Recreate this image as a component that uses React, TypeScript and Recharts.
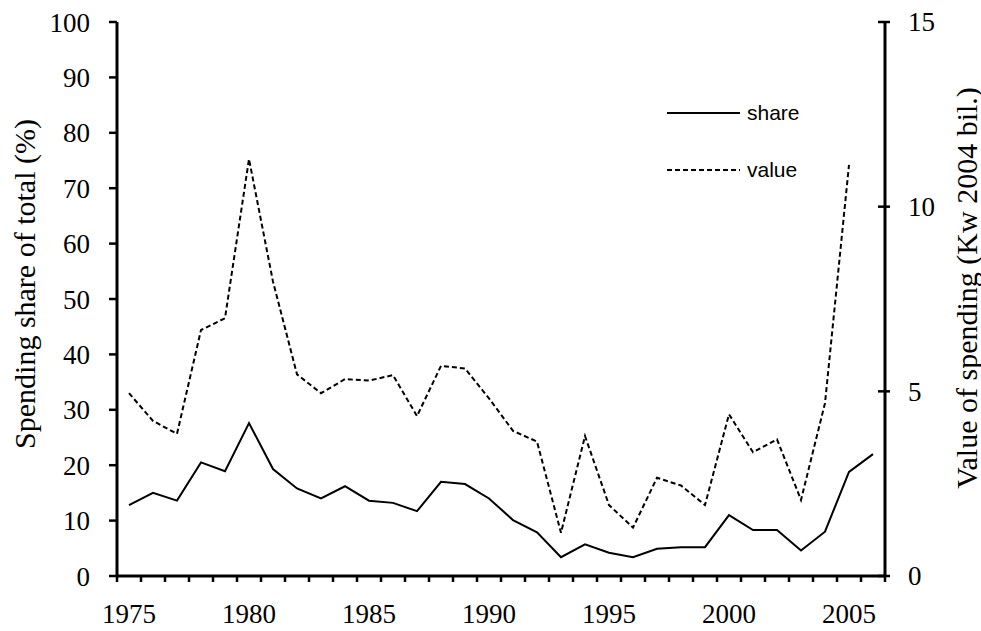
import {
  LineChart, Line, XAxis, YAxis, Legend,
} from 'recharts'

const YEARS = [
  1975, 1976, 1977, 1978, 1979, 1980, 1981, 1982, 1983, 1984, 1985,
  1986, 1987, 1988, 1989, 1990, 1991, 1992, 1993, 1994, 1995, 1996,
  1997, 1998, 1999, 2000, 2001, 2002, 2003, 2004, 2005, 2006,
]

// spending share of total (%), left axis
const SHARE = [
  12.8, 15.0, 13.6, 20.5, 18.9, 27.6, 19.3, 15.8, 14.0, 16.2, 13.6,
  13.2, 11.7, 17.0, 16.6, 14.0, 10.1, 7.9, 3.4, 5.7, 4.2, 3.4,
  4.9, 5.2, 5.2, 11.0, 8.3, 8.3, 4.6, 8.0, 18.8, 22.0,
]

// value of spending (Kw 2004 bil.), right axis
const VALUE: (number | null)[] = [
  4.95, 4.2, 3.85, 6.66, 6.98, 11.29, 7.97, 5.46, 4.95, 5.33, 5.29,
  5.44, 4.33, 5.69, 5.62, 4.81, 3.93, 3.64, 1.17, 3.79, 1.92, 1.31,
  2.66, 2.45, 1.92, 4.38, 3.35, 3.70, 2.06, 4.68, 11.13, null,
]

const LEFT_TICKS = [0, 10, 20, 30, 40, 50, 60, 70, 80, 90, 100]
const RIGHT_TICKS = [0, 5, 10, 15]
// tick marks sit between the years, like a category axis
const X_TICKS = [...YEARS.map((y) => y - 0.5), YEARS[YEARS.length - 1] + 0.5]

const data = YEARS.map((year, i) => ({ year, share: SHARE[i], value: VALUE[i] }))

const SERIF = '"Liberation Serif", "Times New Roman", serif'
const SANS = '"Liberation Sans", Arial, sans-serif'
const FS = 27
const LABEL_FS = 30
const BAND = 24

function XTick(props: any) {
  const { x, y, payload } = props
  const year = Math.round(payload.value + 0.5)
  if (year % 5 !== 0 || year > 2006) return <g />
  return (
    <text x={x + BAND / 2} y={y} dy="0.71em" textAnchor="middle"
      fontFamily={SERIF} fontSize={FS} fill="#000">
      {year}
    </text>
  )
}

function RightTick(props: any) {
  const { x, y, payload } = props
  const ax = x - 23
  return (
    <g>
      <line x1={ax - 7} x2={ax + 5} y1={y} y2={y} stroke="#000" strokeWidth={2.5} />
      <text x={x} y={y} dy="0.35em" textAnchor="start"
        fontFamily={SERIF} fontSize={FS} fill="#000">
        {payload.value}
      </text>
    </g>
  )
}

function LeftLabel() {
  return (
    <text x={24} y={284} transform="rotate(-90 24 284)" textAnchor="middle"
      dominantBaseline="central" fontFamily={SERIF} fontSize={LABEL_FS} fill="#000">
      Spending share of total (%)
    </text>
  )
}

function RightLabel() {
  return (
    <text x={966} y={288} transform="rotate(-90 966 288)" textAnchor="middle"
      dominantBaseline="central" fontFamily={SERIF} fontSize={LABEL_FS} fill="#000">
      Value of spending (Kw 2004 bil.)
    </text>
  )
}

function LegendBox() {
  const rows = [
    { name: 'share', dash: undefined },
    { name: 'value', dash: '5 3' },
  ]
  return (
    <div>
      {rows.map((r) => (
        <div key={r.name} style={{ display: 'flex', alignItems: 'center', height: 57 }}>
          <svg width={73} height={4} style={{ marginRight: 7 }}>
            <line x1={0} x2={73} y1={2} y2={2} stroke="#000" strokeWidth={2} strokeDasharray={r.dash} />
          </svg>
          <span style={{ fontFamily: SANS, fontSize: 21, color: '#000' }}>{r.name}</span>
        </div>
      ))}
    </div>
  )
}

export default function App() {
  return (
    <div style={{ position: 'absolute', left: 0, top: 0, background: '#fff' }}>
      <LineChart width={981} height={631} data={data}
        margin={{ top: 22, right: 0, bottom: 0, left: 0 }}>
        <XAxis
          dataKey="year"
          type="number"
          domain={[1974.5, 2006.5]}
          ticks={X_TICKS}
          interval={0}
          height={55}
          tickSize={6}
          tickMargin={22}
          axisLine={{ stroke: '#000', strokeWidth: 3 }}
          tickLine={{ stroke: '#000', strokeWidth: 2.5 }}
          tick={<XTick />}
        />
        <YAxis
          yAxisId="left"
          domain={[0, 100]}
          ticks={LEFT_TICKS}
          interval={0}
          width={117}
          tickSize={8}
          tickMargin={19}
          axisLine={{ stroke: '#000', strokeWidth: 3 }}
          tickLine={{ stroke: '#000', strokeWidth: 2.5 }}
          tick={{ fontFamily: SERIF, fontSize: FS, fill: '#000' }}
          label={<LeftLabel />}
        />
        <YAxis
          yAxisId="right"
          orientation="right"
          domain={[0, 15]}
          ticks={RIGHT_TICKS}
          interval={0}
          width={96}
          tickSize={5}
          tickMargin={18}
          axisLine={{ stroke: '#000', strokeWidth: 3 }}
          tickLine={false}
          tick={<RightTick />}
          label={<RightLabel />}
        />
        <Legend
          layout="vertical"
          align="center"
          verticalAlign="middle"
          content={<LegendBox />}
          wrapperStyle={{ position: 'absolute', left: 667, top: 84, width: 200 }}
        />
        <Line yAxisId="left" type="linear" dataKey="share" stroke="#000"
          strokeWidth={2} dot={false} isAnimationActive={false} />
        <Line yAxisId="right" type="linear" dataKey="value" stroke="#000"
          strokeWidth={2} strokeDasharray="5 3" dot={false} isAnimationActive={false} />
      </LineChart>
    </div>
  )
}
